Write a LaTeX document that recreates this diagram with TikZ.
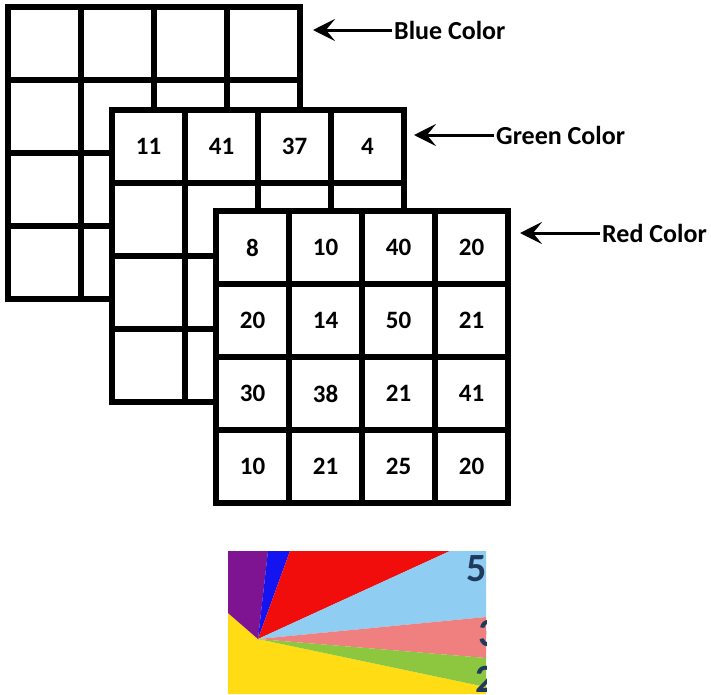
\documentclass[tikz,border=0pt]{standalone}
\usepackage{fontspec}
\setmainfont{Carlito}
\usetikzlibrary{arrows.meta}
\definecolor{fanpurple}{HTML}{7E1491}
\definecolor{fanblue}{HTML}{1414F0}
\definecolor{fanred}{HTML}{F20D0D}
\definecolor{fansky}{HTML}{8FCDF2}
\definecolor{fansalmon}{HTML}{F08080}
\definecolor{fangreen}{HTML}{8DC63F}
\definecolor{fanyellow}{HTML}{FFDC14}
\definecolor{fanink}{HTML}{1F3A5C}

\begin{document}
\begin{tikzpicture}[x=1pt, y=-1pt,
  gridline/.style={line width=6pt},
  cellnum/.style={font=\fontsize{25}{28}\selectfont\bfseries},
  lbl/.style={anchor=west, inner sep=2pt, font=\fontsize{26}{29}\selectfont\bfseries},
  pointer/.style={line width=3pt, -{Stealth[length=22pt,width=22pt,inset=9pt]}},
  fannum/.style={text=fanink, font=\fontsize{40}{44}\selectfont\bfseries}]
  \useasboundingbox (0,0) rectangle (711,694);
  % three colour planes, back to front
  \foreach \gx/\gy/\gname in {8/7/blue, 112/110/green, 216/211/red}
  {
    \begin{scope}[shift={(\gx,\gy)}]
      \fill[white] (0,0) rectangle (292,292);
      \foreach \k in {1,2,3}
        {\draw[gridline] (\k*73,0) -- (\k*73,292); \draw[gridline] (0,\k*73) -- (292,\k*73);}
      \draw[gridline] (0,0) rectangle (292,292);
    \end{scope}
  }
  % pixel values
  \foreach \v [count=\c] in {11,41,37,4}
    \node[cellnum] (green-1-\c) at (112+\c*73-36.5, 110+36.5) {\v};
  \foreach \vals [count=\r] in {{8,10,40,20},{20,14,50,21},{30,38,21,41},{10,21,25,20}}
    \foreach \v [count=\c] in \vals
      \node[cellnum] (red-\r-\c) at (216+\c*73-36.5, 211+\r*73-36.5) {\v};
  % plane labels
  \coordinate (bluetip) at (313,30);
  \coordinate (greentip) at (414,135);
  \coordinate (redtip) at (520,233);
  \node[lbl] (bluelbl) at (392,30) {Blue Color};
  \node[lbl] (greenlbl) at (494,135) {Green Color};
  \node[lbl] (redlbl) at (600,233) {Red Color};
  \draw[pointer] (bluelbl.west) -- (bluetip);
  \draw[pointer] (greenlbl.west) -- (greentip);
  \draw[pointer] (redlbl.west) -- (redtip);
  % colour fan
  \begin{scope}
    \clip (228,551) rectangle (486,694);
    \coordinate (hub) at (258,639);
    \fill[fanyellow] (228,613) -- (hub) -- (486,687) -- (486,694) -- (228,694) -- cycle;
    \fill[fanpurple] (228,551) -- (268,551) -- (hub) -- (228,613) -- cycle;
    \fill[fanblue] (268,551) -- (290,551) -- (hub) -- cycle;
    \fill[fanred] (290,551) -- (450,551) -- (hub) -- cycle;
    \fill[fansky] (450,551) -- (486,551) -- (486,617) -- (hub) -- cycle;
    \fill[fansalmon] (486,617) -- (486,658) -- (hub) -- cycle;
    \fill[fangreen] (486,658) -- (486,687) -- (hub) -- cycle;
    \node[fannum] (five) at (477,569) {5};
    \node[fannum] (three) at (489,634) {3};
    \node[fannum] (two) at (486,679) {2};
  \end{scope}
\end{tikzpicture}
\end{document}
